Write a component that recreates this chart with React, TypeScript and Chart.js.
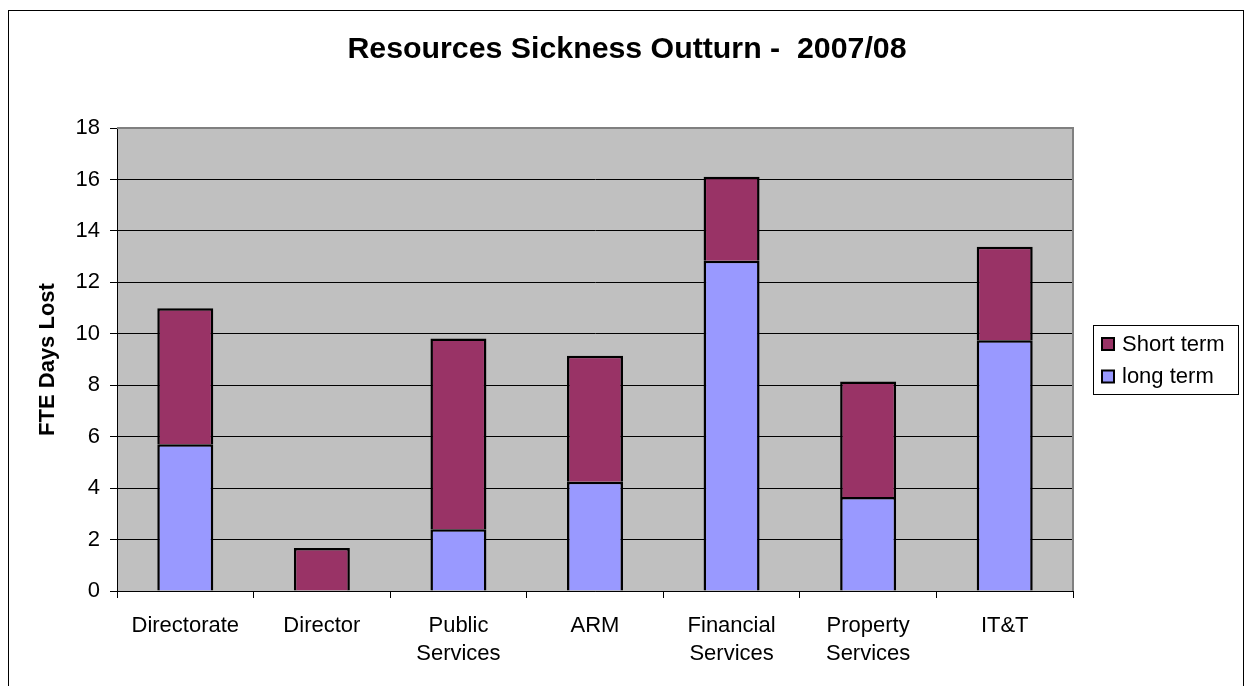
import React, { useEffect, useRef } from 'react';
import { Chart, registerables } from 'chart.js';

Chart.register(...registerables);

const categories: string[][] = [
  ['Directorate'],
  ['Director'],
  ['Public', 'Services'],
  ['ARM'],
  ['Financial', 'Services'],
  ['Property', 'Services'],
  ['IT&T'],
];
const longTerm = [5.71, 0, 2.4, 4.25, 12.84, 3.65, 9.75];
const shortTerm = [5.28, 1.67, 7.42, 4.9, 3.26, 4.49, 3.63];
const yTicks = [0, 2, 4, 6, 8, 10, 12, 14, 16, 18];
const seriesNames = ['Short term', 'long term'];
const titleText = 'Resources Sickness Outturn -  2007/08';
const yTitle = 'FTE Days Lost';

const FONT = "'Liberation Sans', Arial, Helvetica, sans-serif";
const SHORT_COLOR = '#993366';
const LONG_COLOR = '#9999FF';

const plotPlugin = {
  id: 'plotDecor',
  beforeDraw(chart: any) {
    const { ctx, chartArea } = chart;
    ctx.save();
    ctx.fillStyle = '#C0C0C0';
    ctx.fillRect(chartArea.left, chartArea.top, chartArea.right - chartArea.left, chartArea.bottom - chartArea.top);
    ctx.restore();
  },
  beforeDatasetsDraw(chart: any) {
    const { ctx, chartArea } = chart;
    ctx.save();
    ctx.strokeStyle = '#808080';
    ctx.lineWidth = 2;
    ctx.beginPath();
    ctx.moveTo(chartArea.left, chartArea.top);
    ctx.lineTo(chartArea.right, chartArea.top);
    ctx.lineTo(chartArea.right, chartArea.bottom);
    ctx.stroke();
    ctx.restore();
  },
  afterDraw(chart: any) {
    const { ctx } = chart;
    ctx.save();
    // chart title, centred on the whole chart
    ctx.fillStyle = '#000';
    ctx.font = `bold 30.3px ${FONT}`;
    ctx.textAlign = 'center';
    ctx.textBaseline = 'middle';
    ctx.fillText(titleText, 618, 39);

    // legend box
    const bx = 1084.5, by = 314.5, bw = 145, bh = 69;
    ctx.strokeStyle = '#000';
    ctx.lineWidth = 1;
    ctx.strokeRect(bx, by, bw, bh);
    const ds = chart.data.datasets;
    const order = [1, 0];
    ctx.font = `22px ${FONT}`;
    ctx.textBaseline = 'middle';
    ctx.textAlign = 'left';
    order.forEach((di, i) => {
      const d = ds[di];
      const sy = 326 + i * 32.5;
      ctx.fillStyle = d.backgroundColor;
      ctx.fillRect(1093, sy + 1, 12, 12);
      ctx.strokeStyle = '#000';
      ctx.lineWidth = 2;
      ctx.strokeRect(1093, sy + 1, 12, 12);
      ctx.fillStyle = '#000';
      ctx.fillText(d.label, 1113, sy + 7.5);
    });
    ctx.restore();
  },
};

export default function App() {
  const canvasRef = useRef<HTMLCanvasElement | null>(null);

  useEffect(() => {
    document.documentElement.style.overflow = 'hidden';
    document.body.style.overflow = 'hidden';
    const canvas = canvasRef.current;
    if (!canvas) return;
    const chart = new Chart(canvas, {
      type: 'bar',
      data: {
        labels: categories,
        datasets: [
          {
            label: seriesNames[1],
            data: longTerm,
            backgroundColor: LONG_COLOR,
            borderColor: '#000',
            borderWidth: 2.5,
          },
          {
            label: seriesNames[0],
            data: shortTerm,
            backgroundColor: SHORT_COLOR,
            borderColor: '#000',
            borderWidth: 2.5,
          },
        ],
      },
      options: {
        responsive: false,
        animation: false,
        events: [],
        categoryPercentage: 1,
        barPercentage: 0.41,
        layout: { padding: { left: 0, right: 170, top: 117, bottom: 0 } },
        plugins: {
          legend: { display: false },
          tooltip: { enabled: false },
          title: { display: false },
        },
        scales: {
          x: {
            stacked: true,
            grid: {
              offset: true,
              drawOnChartArea: false,
              drawTicks: true,
              tickLength: 7,
              color: '#000',
              lineWidth: 1,
            },
            border: { color: '#000', width: 1 },
            ticks: {
              color: '#000',
              font: { family: FONT, size: 22, lineHeight: 28 / 22 },
              padding: 14,
              maxRotation: 0,
              minRotation: 0,
              autoSkip: false,
            },
            afterFit: (s: any) => {
              s.height = 100;
            },
          },
          y: {
            stacked: true,
            min: 0,
            max: 18,
            afterBuildTicks: (s: any) => {
              s.ticks = yTicks.map((v) => ({ value: v }));
            },
            grid: { color: '#000', lineWidth: 1, tickLength: 7, drawTicks: true },
            border: { color: '#000', width: 1 },
            ticks: {
              color: '#000',
              font: { family: FONT, size: 22 },
              padding: 10,
            },
            title: {
              display: true,
              text: yTitle,
              color: '#000',
              font: { family: FONT, size: 22, weight: 'bold', lineHeight: 1.2 },
              padding: { top: 26, bottom: 0 },
            },
            afterFit: (s: any) => {
              s.width = 108;
            },
          },
        },
      } as any,
      plugins: [plotPlugin],
    });
    return () => {
      chart.destroy();
    };
  }, []);

  return (
    <div
      style={{
        position: 'absolute',
        left: 8,
        top: 10,
        width: 1236,
        height: 690,
        border: '1px solid #000',
        boxSizing: 'border-box',
        background: '#fff',
        overflow: 'hidden',
      }}
    >
      <canvas
        ref={canvasRef}
        width={1234}
        height={680}
        style={{ position: 'absolute', left: 0, top: 0, display: 'block', width: 1234, height: 680 }}
      />
    </div>
  );
}
